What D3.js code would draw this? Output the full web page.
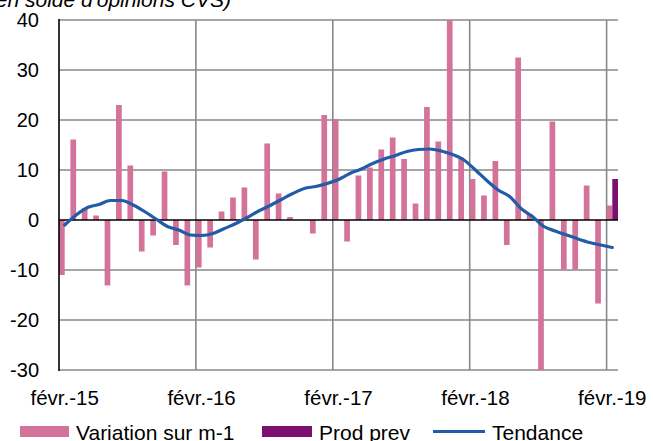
<!DOCTYPE html>
<html>
<head>
<meta charset="utf-8">
<script src="https://cdn.jsdelivr.net/npm/d3@7"></script>
<style>
  body { margin: 0; background: #fff; }
  text { font-family: "Liberation Sans", Arial, sans-serif; fill: #000; }
</style>
</head>
<body>
<svg id="chart"></svg>
<script>
// months from févr.-15 to févr.-19
const months = d3.range(49).map(i => new Date(2015, 1 + i, 1));
const tickMonths = [0, 12, 24, 36, 48];
const tickLabels = ["févr.-15", "févr.-16", "févr.-17", "févr.-18", "févr.-19"];
const yTicks = [40, 30, 20, 10, 0, -10, -20, -30];

const variation = [
  -11.0, 16.1, 2.4, 0.9, -13.1, 23.0, 10.9, -6.3, -3.1, 9.7,
  -5.0, -13.1, -9.5, -5.5, 1.7, 4.5, 6.5, -7.9, 15.3, 5.3,
  0.6, 0, -2.7, 21.0, 20.2, -4.3, 8.9, 10.5, 14.1, 16.5,
  12.2, 3.3, 22.6, 15.7, 40, 12.5, 8.2, 4.9, 11.8, -5.0,
  32.5, 1.2, -30, 19.7, -9.9, -9.9, 6.9, -16.7, 2.9
];
const prodPrev = Array(48).fill(null).concat([8.2]);
const tendance = [
  -1.0, 1.0, 2.5, 3.1, 3.9, 3.9, 3.0, 1.7, 0.2, -1.3,
  -2.0, -3.0, -3.1, -2.7, -1.7, -0.7, 0.5, 1.8, 2.9, 4.1,
  5.3, 6.3, 6.7, 7.3, 8.1, 9.3, 10.2, 11.3, 12.2, 12.9,
  13.7, 14.1, 14.2, 13.8, 13.1, 12.0, 10.0, 7.9, 6.0, 4.7,
  2.3, 0.7, -1.3, -2.2, -3.0, -3.8, -4.5, -5.0, -5.5
];

const W = 653, H = 441;
const margin = {top: 20, right: 35, bottom: 71, left: 59};

const svg = d3.select("#chart").attr("width", W).attr("height", H);

const x = d3.scaleBand()
  .domain(d3.range(months.length))
  .range([margin.left, W - margin.right])
  .padding(0);

const y = d3.scaleLinear()
  .domain([-30, 40])
  .range([H - margin.bottom, margin.top]);

const bw = x.bandwidth() / 2;

// horizontal gridlines
svg.append("g")
  .selectAll("line")
  .data(yTicks.filter(d => d !== 0))
  .join("line")
  .attr("x1", margin.left).attr("x2", W - margin.right)
  .attr("y1", d => y(d)).attr("y2", d => y(d))
  .attr("stroke", "#888").attr("stroke-width", 1.6);

// vertical gridlines at each february
svg.append("g")
  .selectAll("line")
  .data(tickMonths.slice(1))
  .join("line")
  .attr("x1", d => x(d)).attr("x2", d => x(d))
  .attr("y1", y(40)).attr("y2", y(-30))
  .attr("stroke", "#888").attr("stroke-width", 1.6);

// subtitle, partly cut off at the top like the original
svg.append("text")
  .attr("x", 231).attr("y", 7)
  .attr("text-anchor", "end")
  .attr("font-style", "italic")
  .attr("font-size", 21)
  .text("(en solde d'opinions CVS)");

const plot = svg.append("g");
plot.append("clipPath").attr("id", "clip")
  .append("rect")
  .attr("x", margin.left).attr("y", y(40))
  .attr("width", W - margin.left - margin.right).attr("height", y(-30) - y(40) + 1);

const bars = plot.append("g").attr("clip-path", "url(#clip)");

bars.selectAll("rect.var")
  .data(variation)
  .join("rect")
  .attr("class", "var")
  .attr("x", (d, i) => x(i))
  .attr("width", bw)
  .attr("y", d => y(Math.max(0, d)))
  .attr("height", d => Math.abs(y(d) - y(0)))
  .attr("fill", "#d4739a");

bars.selectAll("rect.prev")
  .data(prodPrev.map((d, i) => ({d, i})).filter(o => o.d !== null))
  .join("rect")
  .attr("class", "prev")
  .attr("x", o => x(o.i) + bw)
  .attr("width", bw)
  .attr("y", o => y(Math.max(0, o.d)))
  .attr("height", o => Math.abs(y(o.d) - y(0)))
  .attr("fill", "#7b1070");

// zero line
svg.append("line")
  .attr("x1", margin.left).attr("x2", W - margin.right)
  .attr("y1", y(0)).attr("y2", y(0))
  .attr("stroke", "#000").attr("stroke-width", 1.6);

// left axis
svg.append("line")
  .attr("x1", margin.left).attr("x2", margin.left)
  .attr("y1", y(40) - 1).attr("y2", y(-30) + 1)
  .attr("stroke", "#000").attr("stroke-width", 1.6);

// trend line
const line = d3.line()
  .x((d, i) => x(i) + x.bandwidth() / 2)
  .y(d => y(d))
  .curve(d3.curveMonotoneX);

svg.append("path")
  .datum(tendance)
  .attr("d", line)
  .attr("fill", "none")
  .attr("stroke", "#225ca8")
  .attr("stroke-width", 3.2)
  .attr("stroke-linecap", "round")
  .attr("stroke-linejoin", "round");

// y tick labels
svg.append("g")
  .selectAll("text")
  .data(yTicks)
  .join("text")
  .attr("x", 39)
  .attr("y", d => y(d))
  .attr("dy", "0.36em")
  .attr("text-anchor", "end")
  .attr("font-size", 20)
  .text(d => d);

// x tick labels
svg.append("g")
  .selectAll("text")
  .data(tickMonths)
  .join("text")
  .attr("x", d => x(d) + x.bandwidth() / 2)
  .attr("y", 405)
  .attr("text-anchor", "middle")
  .attr("font-size", 20.5)
  .text((d, i) => tickLabels[i]);

// legend
const leg = svg.append("g");
leg.append("rect").attr("x", 20).attr("y", 426).attr("width", 49).attr("height", 11).attr("fill", "#d4739a");
leg.append("text").attr("x", 76).attr("y", 440).attr("font-size", 21).text("Variation sur m-1");
leg.append("rect").attr("x", 262).attr("y", 426).attr("width", 50).attr("height", 11).attr("fill", "#7b1070");
leg.append("text").attr("x", 319).attr("y", 440).attr("font-size", 21).text("Prod prev");
leg.append("line").attr("x1", 433).attr("x2", 485).attr("y1", 431.5).attr("y2", 431.5)
  .attr("stroke", "#225ca8").attr("stroke-width", 3.2);
leg.append("text").attr("x", 492).attr("y", 440).attr("font-size", 21).text("Tendance");
</script>
</body>
</html>
